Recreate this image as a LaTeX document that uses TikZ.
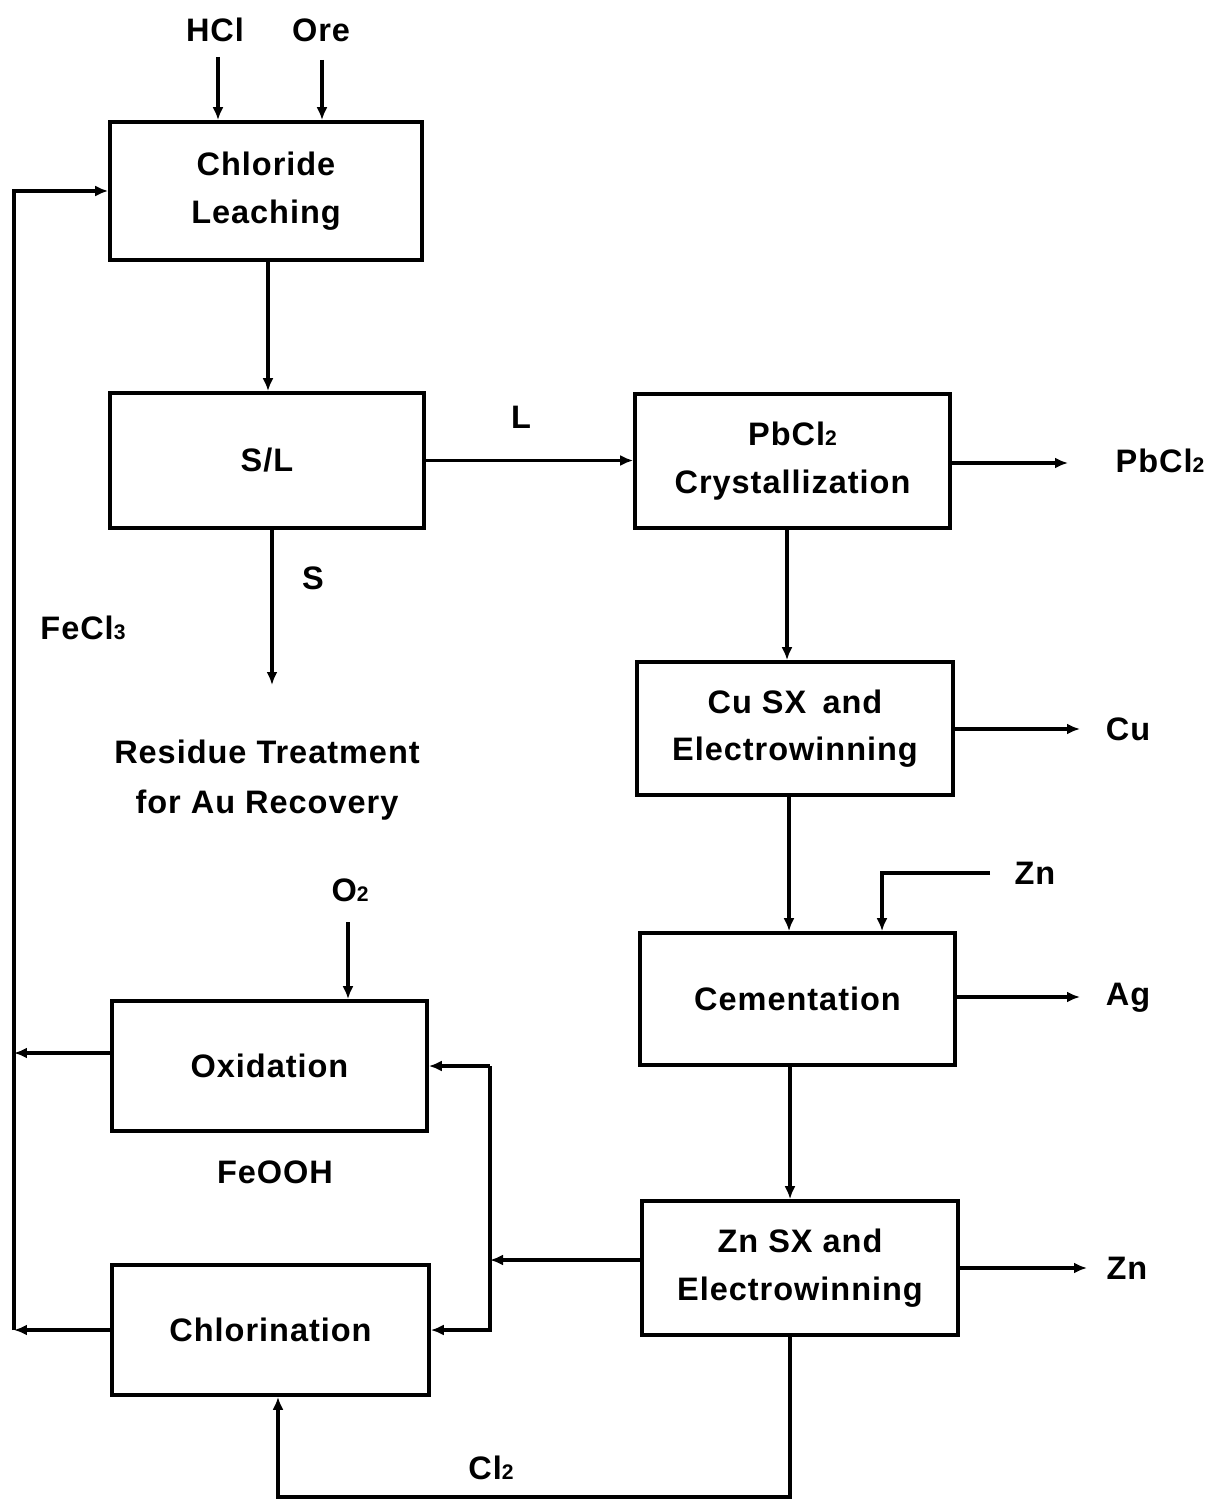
\documentclass[tikz,border=0pt]{standalone}
\usepackage{fontspec}
\setmainfont{Liberation Sans}[LetterSpace=3]
\usetikzlibrary{arrows.meta,calc}
\newcommand{\sub}[1]{{\fontsize{12}{12}\selectfont #1}}
\begin{document}
\begin{tikzpicture}[x=0.02cm,y=-0.02cm,
  every node/.style={font=\fontsize{18.5}{27}\selectfont\bfseries},
  box/.style={draw,line width=2.1pt,align=center,inner sep=0pt},
  lbl/.style={inner sep=1pt},
  flow/.style={line width=2.1pt,-{Latex[length=0.26cm,width=0.22cm]}},
  ln/.style={line width=2.1pt}]
\useasboundingbox (0,0) rectangle (1211,1503);
% boxes
\node[box,minimum width=6.24cm,minimum height=2.76cm] (leach) at (266,191) {Chloride\\Leaching};
\node[box,minimum width=6.28cm,minimum height=2.70cm] (sl) at (267,460.5) {S/L};
\node[box,minimum width=6.30cm,minimum height=2.68cm] (pb) at (792.5,461) {PbCl\sub{2}\\Crystallization};
\node[box,minimum width=6.32cm,minimum height=2.66cm] (cu) at (795,728.5) {Cu SX\enspace and\\Electrowinning};
\node[box,minimum width=6.30cm,minimum height=2.64cm] (cem) at (797.5,999) {Cementation};
\node[box,minimum width=6.32cm,minimum height=2.68cm] (zn) at (800,1268) {Zn SX and\\Electrowinning};
\node[box,minimum width=6.30cm,minimum height=2.60cm] (ox) at (269.5,1066) {Oxidation};
\node[box,minimum width=6.34cm,minimum height=2.60cm] (chl) at (270.5,1330) {Chlorination};
% labels
\node[lbl] (hcl) at (215,30) {HCl};
\node[lbl] (ore) at (321,30) {Ore};
\node[lbl] (L) at (521,417) {L};
\node[lbl] (S) at (313,578) {S};
\node[lbl] (fecl) at (83,628) {FeCl\sub{3}};
\node[lbl] (pbl) at (1160,461) {PbCl\sub{2}};
\node[lbl] (cul) at (1128,729) {Cu};
\node[lbl] (znl) at (1035,873) {Zn};
\node[lbl] (agl) at (1128,998) {Ag};
\node[lbl] (zn2l) at (1127,1268) {Zn};
\node[lbl] (o2) at (350,890) {O\sub{2}};
\node[lbl] (feooh) at (275,1172) {FeOOH};
\node[lbl] (cl2) at (491,1468) {Cl\sub{2}};
\node[lbl,align=center,font=\fontsize{18.5}{28.5}\selectfont\bfseries] (res) at (267,780) {Residue Treatment\\for Au Recovery};
% coordinates
\coordinate (hclt) at (218,57);
\coordinate (oret) at (322,60);
\coordinate (lx) at (14,0);
\coordinate (rx) at (490,0);
\coordinate (sout) at (272,685);
\coordinate (pbout) at (1068,463);
\coordinate (cuout) at (1080,729);
\coordinate (agout) at (1080,997);
\coordinate (znout) at (1087,1268);
\coordinate (znin) at (990,873);
\coordinate (zndn) at (882,0);
\coordinate (o2t) at (348,922);
\coordinate (clb) at (278,1497);
% connectors
\draw[flow] (hclt) -- (hclt |- leach.north);
\draw[flow] (oret) -- (oret |- leach.north);
\draw[flow] ([xshift=0.04cm]leach.south) -- ([xshift=0.04cm]leach.south |- sl.north);
\draw[flow] (sl.east) -- (sl.east -| pb.west);
\draw[flow] (sout |- sl.south) -- (sout);
\draw[flow] (pb.east |- pbout) -- (pbout);
\draw[flow] ([xshift=-0.11cm]pb.south) -- ([xshift=-0.11cm]pb.south |- cu.north);
\draw[flow] (cu.east |- cuout) -- (cuout);
\draw[flow] ([xshift=-0.12cm]cu.south) -- ([xshift=-0.12cm]cu.south |- cem.north);
\draw[flow] (znin) -| (zndn |- cem.north);
\draw[flow] (cem.east |- agout) -- (agout);
\draw[flow] ([xshift=-0.15cm]cem.south) -- ([xshift=-0.15cm]cem.south |- zn.north);
\draw[flow] (zn.east) -- (znout);
\draw[flow] ([yshift=0.16cm]zn.west) -- ([yshift=0.16cm]zn.west -| rx);
\draw[ln] ([yshift=0.16cm]zn.west -| rx) -- (ox.east -| rx);
\draw[flow] (ox.east -| rx) -- (ox.east);
\draw[flow] ([yshift=0.16cm]zn.west -| rx) |- (chl.east);
\draw[flow] (o2t) -- (o2t |- ox.north);
\draw[flow] ([yshift=0.26cm]ox.west) -- ([yshift=0.26cm]ox.west -| lx);
\draw[flow] (chl.west) -- (chl.west -| lx);
\draw[flow] (chl.west -| lx) -- (leach.west -| lx) -- (leach.west);
\draw[flow] ([xshift=-0.2cm]zn.south) |- (clb) -- (clb |- chl.south);
\end{tikzpicture}
\end{document}
